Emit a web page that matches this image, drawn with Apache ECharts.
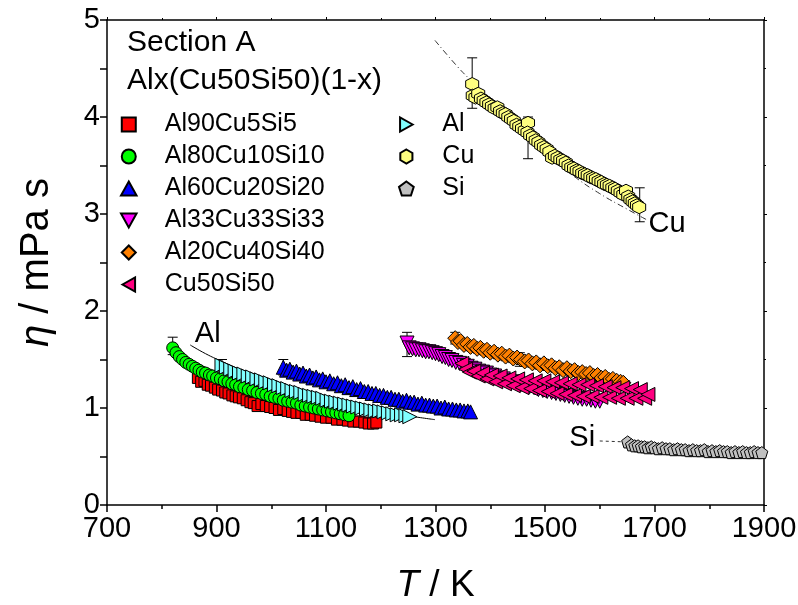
<!DOCTYPE html>
<html><head><meta charset="utf-8">
<script src="https://cdn.jsdelivr.net/npm/echarts@6/dist/echarts.min.js"></script>
<style>html,body{margin:0;padding:0;background:#fff}#c{width:798px;height:605px}</style>
</head><body><div id="c"></div>
<script>
// ---- data ----
const seriesNames = ['Al90Cu5Si5','Al80Cu10Si10','Al60Cu20Si20','Al33Cu33Si33','Al20Cu40Si40','Cu50Si50','Al','Cu','Si'];
const xTickLabels = [700, 900, 1100, 1300, 1500, 1700, 1900];
const yTickLabels = [0, 1, 2, 3, 4, 5];
const titleText = 'Section A';
const subtitleText = 'Alx(Cu50Si50)(1-x)';

const al90 = [[866,1.31],[872,1.27],[878,1.28],[884,1.24],[890,1.23],[897,1.21],[903,1.19],[910,1.18],[916,1.16],[922,1.15],[929,1.13],[935,1.12],[941,1.11],[948,1.10],[955,1.08],[962,1.06],[968,1.05],[975,1.02],[982,1.04],[990,1.02],[998,1.01],[1006,1.00],[1014,0.98],[1022,0.99],[1030,0.97],[1038,0.96],[1046,0.95],[1055,0.95],[1063,0.93],[1072,0.93],[1080,0.92],[1090,0.91],[1100,0.90],[1110,0.90],[1120,0.88],[1130,0.88],[1140,0.87],[1150,0.86],[1160,0.86],[1170,0.85],[1178,0.84],[1186,0.84],[1192,0.85]];
const al80 = [[820,1.62],[826,1.57],[832,1.53],[838,1.50],[844,1.47],[850,1.45],[856,1.43],[862,1.41],[868,1.39],[874,1.37],[880,1.36],[887,1.34],[893,1.33],[900,1.31],[907,1.30],[914,1.28],[921,1.27],[928,1.25],[935,1.24],[942,1.22],[950,1.21],[958,1.19],[966,1.18],[974,1.16],[982,1.15],[990,1.14],[998,1.12],[1006,1.11],[1014,1.10],[1022,1.08],[1030,1.07],[1038,1.06],[1046,1.05],[1054,1.03],[1062,1.02],[1070,1.01],[1078,1.00],[1086,0.99],[1094,0.98],[1102,0.97],[1110,0.96],[1118,0.95],[1126,0.94],[1134,0.93],[1142,0.92]];
const al60 = [[1022,1.42],[1028,1.39],[1034,1.40],[1040,1.37],[1046,1.38],[1052,1.35],[1058,1.36],[1064,1.33],[1070,1.34],[1076,1.31],[1082,1.32],[1088,1.29],[1094,1.30],[1100,1.27],[1107,1.28],[1114,1.25],[1121,1.26],[1128,1.23],[1135,1.24],[1142,1.21],[1149,1.22],[1156,1.19],[1163,1.20],[1170,1.17],[1177,1.17],[1184,1.15],[1191,1.15],[1198,1.13],[1205,1.13],[1212,1.11],[1219,1.11],[1226,1.09],[1233,1.09],[1240,1.07],[1247,1.08],[1254,1.06],[1261,1.06],[1268,1.04],[1275,1.05],[1282,1.03],[1289,1.03],[1296,1.02],[1303,1.02],[1310,1.00],[1317,1.01],[1324,0.99],[1331,0.99],[1338,0.98],[1345,0.98],[1352,0.97],[1359,0.97],[1364,0.96]];
const al33 = [[1248,1.67],[1252,1.62],[1258,1.61],[1264,1.60],[1270,1.60],[1276,1.59],[1282,1.58],[1288,1.58],[1294,1.57],[1300,1.56],[1306,1.55],[1312,1.53],[1318,1.52],[1324,1.50],[1330,1.49],[1337,1.47],[1344,1.46],[1351,1.44],[1358,1.43],[1365,1.41],[1372,1.40],[1379,1.38],[1386,1.37],[1393,1.36],[1400,1.34],[1408,1.33],[1416,1.31],[1424,1.30],[1432,1.28],[1440,1.27],[1448,1.26],[1456,1.24],[1464,1.23],[1472,1.22],[1480,1.21],[1488,1.19],[1496,1.18],[1504,1.17],[1512,1.16],[1520,1.15],[1528,1.14],[1536,1.13],[1544,1.12],[1552,1.11],[1560,1.10],[1568,1.09],[1576,1.09],[1584,1.08],[1592,1.07],[1600,1.07]];
const al20 = [[1336,1.72],[1341,1.68],[1346,1.69],[1352,1.65],[1358,1.66],[1364,1.63],[1370,1.64],[1376,1.61],[1382,1.62],[1388,1.59],[1394,1.60],[1400,1.57],[1407,1.58],[1414,1.55],[1421,1.56],[1428,1.53],[1435,1.54],[1442,1.51],[1449,1.52],[1456,1.50],[1463,1.48],[1470,1.49],[1477,1.46],[1484,1.47],[1491,1.44],[1498,1.46],[1505,1.43],[1512,1.44],[1519,1.41],[1526,1.42],[1533,1.39],[1540,1.41],[1547,1.38],[1554,1.39],[1561,1.36],[1568,1.37],[1575,1.35],[1582,1.36],[1589,1.33],[1596,1.34],[1603,1.31],[1610,1.32],[1617,1.29],[1624,1.30],[1631,1.28],[1638,1.27],[1643,1.26]];
const cu50 = [[1348,1.46],[1355,1.40],[1362,1.37],[1370,1.38],[1378,1.33],[1386,1.36],[1394,1.30],[1402,1.34],[1410,1.27],[1418,1.33],[1426,1.25],[1434,1.31],[1442,1.23],[1450,1.30],[1458,1.21],[1466,1.29],[1474,1.20],[1482,1.28],[1490,1.18],[1498,1.28],[1506,1.17],[1514,1.27],[1522,1.15],[1530,1.26],[1538,1.14],[1546,1.25],[1554,1.13],[1562,1.24],[1570,1.12],[1578,1.24],[1586,1.12],[1594,1.23],[1602,1.11],[1610,1.22],[1618,1.11],[1626,1.21],[1634,1.10],[1642,1.21],[1650,1.10],[1658,1.20],[1666,1.10],[1674,1.19],[1682,1.10],[1688,1.14]];
const alPure = [[910,1.44],[918,1.42],[926,1.40],[934,1.38],[942,1.36],[950,1.35],[958,1.33],[966,1.32],[974,1.30],[982,1.29],[990,1.27],[998,1.26],[1006,1.24],[1014,1.23],[1022,1.21],[1030,1.20],[1038,1.18],[1046,1.17],[1054,1.16],[1062,1.14],[1070,1.13],[1078,1.12],[1086,1.11],[1094,1.10],[1102,1.08],[1110,1.07],[1118,1.06],[1126,1.05],[1134,1.04],[1142,1.03],[1150,1.02],[1158,1.01],[1166,1.00],[1174,0.99],[1182,0.98],[1190,0.97],[1198,0.97],[1206,0.96],[1214,0.95],[1222,0.94],[1230,0.93],[1238,0.93],[1246,0.92],[1253,0.91]];
const cuPure = [[1367,4.34],[1368,4.22],[1373,4.20],[1378,4.24],[1383,4.19],[1388,4.17],[1393,4.15],[1398,4.13],[1403,4.11],[1408,4.09],[1413,4.10],[1418,4.06],[1423,4.04],[1428,4.03],[1433,4.00],[1438,3.98],[1443,3.96],[1448,3.92],[1453,3.90],[1458,3.88],[1463,3.86],[1469,3.94],[1468,3.84],[1473,3.81],[1478,3.79],[1483,3.76],[1488,3.74],[1493,3.71],[1498,3.69],[1503,3.67],[1508,3.64],[1513,3.58],[1518,3.60],[1523,3.58],[1528,3.56],[1533,3.55],[1538,3.53],[1543,3.50],[1548,3.48],[1553,3.47],[1558,3.45],[1563,3.44],[1568,3.42],[1573,3.41],[1578,3.40],[1583,3.38],[1588,3.37],[1593,3.36],[1598,3.34],[1603,3.33],[1608,3.31],[1613,3.30],[1618,3.29],[1623,3.27],[1628,3.26],[1633,3.24],[1638,3.22],[1643,3.20],[1648,3.24],[1652,3.18],[1656,3.15],[1660,3.13],[1664,3.11],[1668,3.09],[1672,3.07]];
const siPure = [[1651,0.65],[1658,0.62],[1664,0.61],[1670,0.61],[1676,0.60],[1682,0.60],[1688,0.59],[1694,0.60],[1700,0.59],[1707,0.58],[1714,0.59],[1721,0.58],[1728,0.58],[1735,0.57],[1742,0.58],[1749,0.57],[1756,0.57],[1763,0.56],[1770,0.57],[1777,0.56],[1784,0.56],[1791,0.57],[1798,0.55],[1805,0.56],[1812,0.55],[1819,0.56],[1826,0.55],[1833,0.55],[1840,0.54],[1847,0.55],[1854,0.54],[1861,0.55],[1868,0.54],[1875,0.54],[1882,0.55],[1889,0.54],[1896,0.54]];

const alFit = [[852,1.65],[880,1.56],[910,1.48],[950,1.38],[1000,1.27],[1050,1.17],[1100,1.09],[1150,1.02],[1200,0.97],[1250,0.92],[1299,0.88]];
const cuFit = [[1299,4.79],[1340,4.52],[1367,4.36],[1400,4.15],[1450,3.87],[1500,3.62],[1550,3.40],[1600,3.21],[1650,3.05],[1686,2.94]];
const siFit = [[1600,0.66],[1650,0.65]];

// [T, low, high]
const errorBars = [[820,1.55,1.73],[910,1.38,1.50],[1022,1.34,1.50],[1248,1.53,1.78],[1336,1.66,1.78],[1454,1.43,1.57],[1367,4.09,4.61],[1469,3.57,4.00],[1673,2.92,3.27]];

const annotations = [['Al',884,1.76],['Cu',1723,2.90],['Si',1568,0.69]];

// ---- styles ----
const FONT = "'Liberation Sans', Arial, sans-serif";
const styles = [
  {color:'#ff0000', symbol:'path://M0,0L10,0L10,10L0,10Z', size:11},
  {color:'#00ff00', symbol:'circle', size:12},
  {color:'#0000ff', symbol:'path://M5,0L10,9L0,9Z', size:14},
  {color:'#ff00ff', symbol:'path://M0,0L10,0L5,9Z', size:14},
  {color:'#ff8000', symbol:'path://M5,0L10,5L5,10L0,5Z', size:15},
  {color:'#ff0080', symbol:'path://M0,5L9,0L9,10Z', size:14},
  {color:'#80ffff', symbol:'path://M9,5L0,0L0,10Z', size:14},
  {color:'#ffff80', symbol:'path://M5,0L9.33,2.5L9.33,7.5L5,10L0.67,7.5L0.67,2.5Z', size:13},
  {color:'#c0c0c0', symbol:'path://M5,0L9.76,3.45L7.94,9.05L2.06,9.05L0.24,3.45Z', size:12}
];
const datasets = [al90, al80, al60, al33, al20, cu50, alPure, cuPure, siPure];

const scatterSeries = datasets.map((d, i) => ({
  name: seriesNames[i], type:'scatter', data:d,
  symbol: styles[i].symbol, symbolSize: styles[i].size,
  itemStyle:{color:styles[i].color, borderColor:'#000', borderWidth:1, opacity:1},
  z: 3, emphasis:{disabled:true}, animation:false
}));

const lineSeries = [
  {type:'line', data:alFit, symbol:'none', smooth:true, lineStyle:{color:'#000', width:1}, z:2, silent:true},
  {type:'line', data:cuFit, symbol:'none', smooth:true, lineStyle:{color:'#333', width:1, type:[6,3,1,3]}, z:2, silent:true},
  {type:'line', data:siFit, symbol:'none', lineStyle:{color:'#333', width:1, type:[3,3]}, z:2, silent:true}
];

const errSeries = {
  type:'custom', data:errorBars, z:2, silent:true, encode:{x:0, y:[1,2]},
  renderItem:(params, api) => {
    const x = api.value(0), lo = api.value(1), hi = api.value(2);
    const p1 = api.coord([x, lo]), p2 = api.coord([x, hi]);
    const w = 5, st = {stroke:'#000', lineWidth:1};
    return {type:'group', children:[
      {type:'line', shape:{x1:p1[0], y1:p1[1], x2:p2[0], y2:p2[1]}, style:st},
      {type:'line', shape:{x1:p1[0]-w, y1:p1[1], x2:p1[0]+w, y2:p1[1]}, style:st},
      {type:'line', shape:{x1:p2[0]-w, y1:p2[1], x2:p2[0]+w, y2:p2[1]}, style:st}
    ]};
  }
};

const legendCommon = {
  orient:'vertical', itemWidth:62, itemHeight:14, itemGap:7, padding:0, selectedMode:false,
  textStyle:{fontSize:25, fontFamily:FONT, color:'#000', lineHeight:25}
};

const axisCommon = {
  axisLine:{show:true, onZero:false, lineStyle:{color:'#000', width:1.5}},
  splitLine:{show:false}
};
const plainNum = v => String(v);

const chart = echarts.init(document.getElementById('c'), null, {renderer:'canvas'});
chart.setOption({
  animation:false,
  backgroundColor:'#fff',
  title:[
    {text:titleText, left:127, top:28, padding:0, textStyle:{fontSize:30, fontWeight:'normal', fontFamily:FONT, color:'#000'}},
    {text:subtitleText, left:127, top:66, padding:0, textStyle:{fontSize:30, fontWeight:'normal', fontFamily:FONT, color:'#000'}}
  ],
  legend:[
    Object.assign({data:seriesNames.slice(0,6), left:120, top:112}, legendCommon),
    Object.assign({data:seriesNames.slice(6), left:398, top:112}, legendCommon)
  ],
  grid:{left:107, right:34, top:20, bottom:100, containLabel:false, outerBoundsMode:'none'},
  xAxis:[
    Object.assign({type:'value', min:xTickLabels[0], max:xTickLabels[xTickLabels.length-1], interval:200, position:'bottom',
      name:'{i|T} / K', nameLocation:'middle', nameGap:62,
      nameTextStyle:{fontSize:37, fontFamily:FONT, color:'#000', rich:{i:{fontStyle:'italic', fontSize:37, fontFamily:FONT}}},
      axisTick:{show:true, inside:false, length:7, lineStyle:{color:'#000', width:1.5}},
      minorTick:{show:true, splitNumber:2, length:4, lineStyle:{color:'#000', width:1.5}},
      axisLabel:{fontSize:29, fontFamily:FONT, color:'#000', margin:9, formatter:plainNum}}, axisCommon),
    Object.assign({type:'value', min:xTickLabels[0], max:xTickLabels[xTickLabels.length-1], interval:200, position:'top',
      axisTick:{show:true, inside:false, length:3, lineStyle:{color:'#000'}},
      minorTick:{show:true, splitNumber:2, length:2, lineStyle:{color:'#000'}},
      axisLabel:{show:false}}, axisCommon)
  ],
  yAxis:[
    Object.assign({type:'value', min:yTickLabels[0], max:yTickLabels[yTickLabels.length-1], interval:1, position:'left',
      name:'{i|η} / mPa s', nameLocation:'middle', nameGap:50, nameRotate:90,
      nameTextStyle:{fontSize:40, fontFamily:FONT, color:'#000', rich:{i:{fontStyle:'italic', fontSize:40, fontFamily:FONT}}},
      axisTick:{show:true, inside:false, length:7, lineStyle:{color:'#000', width:1.5}},
      minorTick:{show:true, splitNumber:2, length:7, lineStyle:{color:'#000', width:1.5}},
      axisLabel:{fontSize:29, fontFamily:FONT, color:'#000', margin:7, formatter:plainNum}}, axisCommon),
    Object.assign({type:'value', min:yTickLabels[0], max:yTickLabels[yTickLabels.length-1], interval:1, position:'right',
      axisTick:{show:true, inside:false, length:3, lineStyle:{color:'#000'}},
      minorTick:{show:true, splitNumber:2, length:2, lineStyle:{color:'#000'}},
      axisLabel:{show:false}}, axisCommon)
  ],
  series:[...lineSeries, errSeries, ...scatterSeries]
});

// annotation labels placed at data coordinates
chart.setOption({
  graphic: annotations.map(a => {
    const p = chart.convertToPixel({xAxisIndex:0, yAxisIndex:0}, [a[1], a[2]]);
    return {type:'text', x:p[0], y:p[1], z:10, silent:true,
      style:{text:a[0], fill:'#000', font:'29px ' + FONT, align:'center', verticalAlign:'middle'}};
  })
});
</script>
</body></html>
